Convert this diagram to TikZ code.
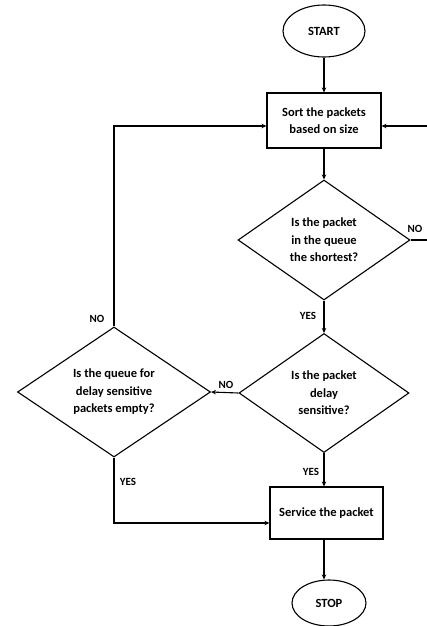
\documentclass[tikz,border=0pt]{standalone}
\usepackage{fontspec}
\setmainfont{Carlito}
\usetikzlibrary{positioning, arrows.meta, shapes.geometric}

\begin{document}
\begin{tikzpicture}[x=1pt, y=-1pt,
    flow/.style={line width=1.1pt, -{Stealth[length=5pt, width=4.5pt]}},
    txt/.style={font=\fontsize{12.5}{17.5}\selectfont\bfseries, align=center},
    lbl/.style={font=\fontsize{11}{13}\selectfont\bfseries, inner sep=1pt}]
    \useasboundingbox (0,0) rectangle (426,626);

    \node[ellipse, draw, line width=1.1pt, minimum width=82, minimum height=52, inner sep=0, txt]
        (start) at (324,31) {START};
    \node[rectangle, draw, line width=1.1pt, minimum width=114, minimum height=55, inner sep=0, txt]
        (sort) at (324,120.5) {Sort the packets\\based on size};
    \node[diamond, draw, line width=1.1pt, minimum width=172, minimum height=120, aspect=1.43, inner sep=-14pt, txt]
        (qshort) at (324,240) {Is the packet\\in the queue\\the shortest?};
    \node[diamond, draw, line width=1.1pt, minimum width=170, minimum height=119, aspect=1.43, inner sep=-14pt, txt]
        (qdelay) at (324,393) {Is the packet\\delay\\sensitive?};
    \node[diamond, draw, line width=1.1pt, minimum width=193, minimum height=130, aspect=1.48, inner sep=-14pt, txt]
        (qempty) at (114,392) {Is the queue for\\delay sensitive\\packets empty?};
    \node[rectangle, draw, line width=1.1pt, minimum width=113, minimum height=52, inner sep=0, txt]
        (service) at (326.5,513) {Service the packet};
    \node[ellipse, draw, line width=1.1pt, minimum width=74, minimum height=46, inner sep=0, txt]
        (stop) at (329,603) {STOP};

    % loop back on the right runs past the page edge
    \coordinate (rloop) at (434,240);

    \draw[flow] (start) -- (sort);
    \draw[flow] (sort) -- (qshort);
    \draw[flow] (qshort) -- (qdelay);
    \draw[flow] (qdelay.west) -- (qempty.east);
    \draw[flow] (qdelay.south) -- (qdelay.south |- service.north);
    \draw[flow] (service.south -| qdelay.south) -- (stop.north -| qdelay.south);
    \draw[flow] (qshort.east) -- (rloop) |- ([yshift=-5.5pt]sort.east);
    \draw[flow] (qempty.north) |- ([yshift=-5.5pt]sort.west);
    \draw[flow] (qempty.south) |- ([yshift=-10pt]service.west);

    \node[lbl] (noshort) at (415,229) {NO};
    \node[lbl] (yesshort) at (308,316) {YES};
    \node[lbl] (nodelay) at (226,385) {NO};
    \node[lbl] (yesdelay) at (311,472) {YES};
    \node[lbl] (noempty) at (97,319) {NO};
    \node[lbl] (yesempty) at (128,482) {YES};
\end{tikzpicture}
\end{document}
